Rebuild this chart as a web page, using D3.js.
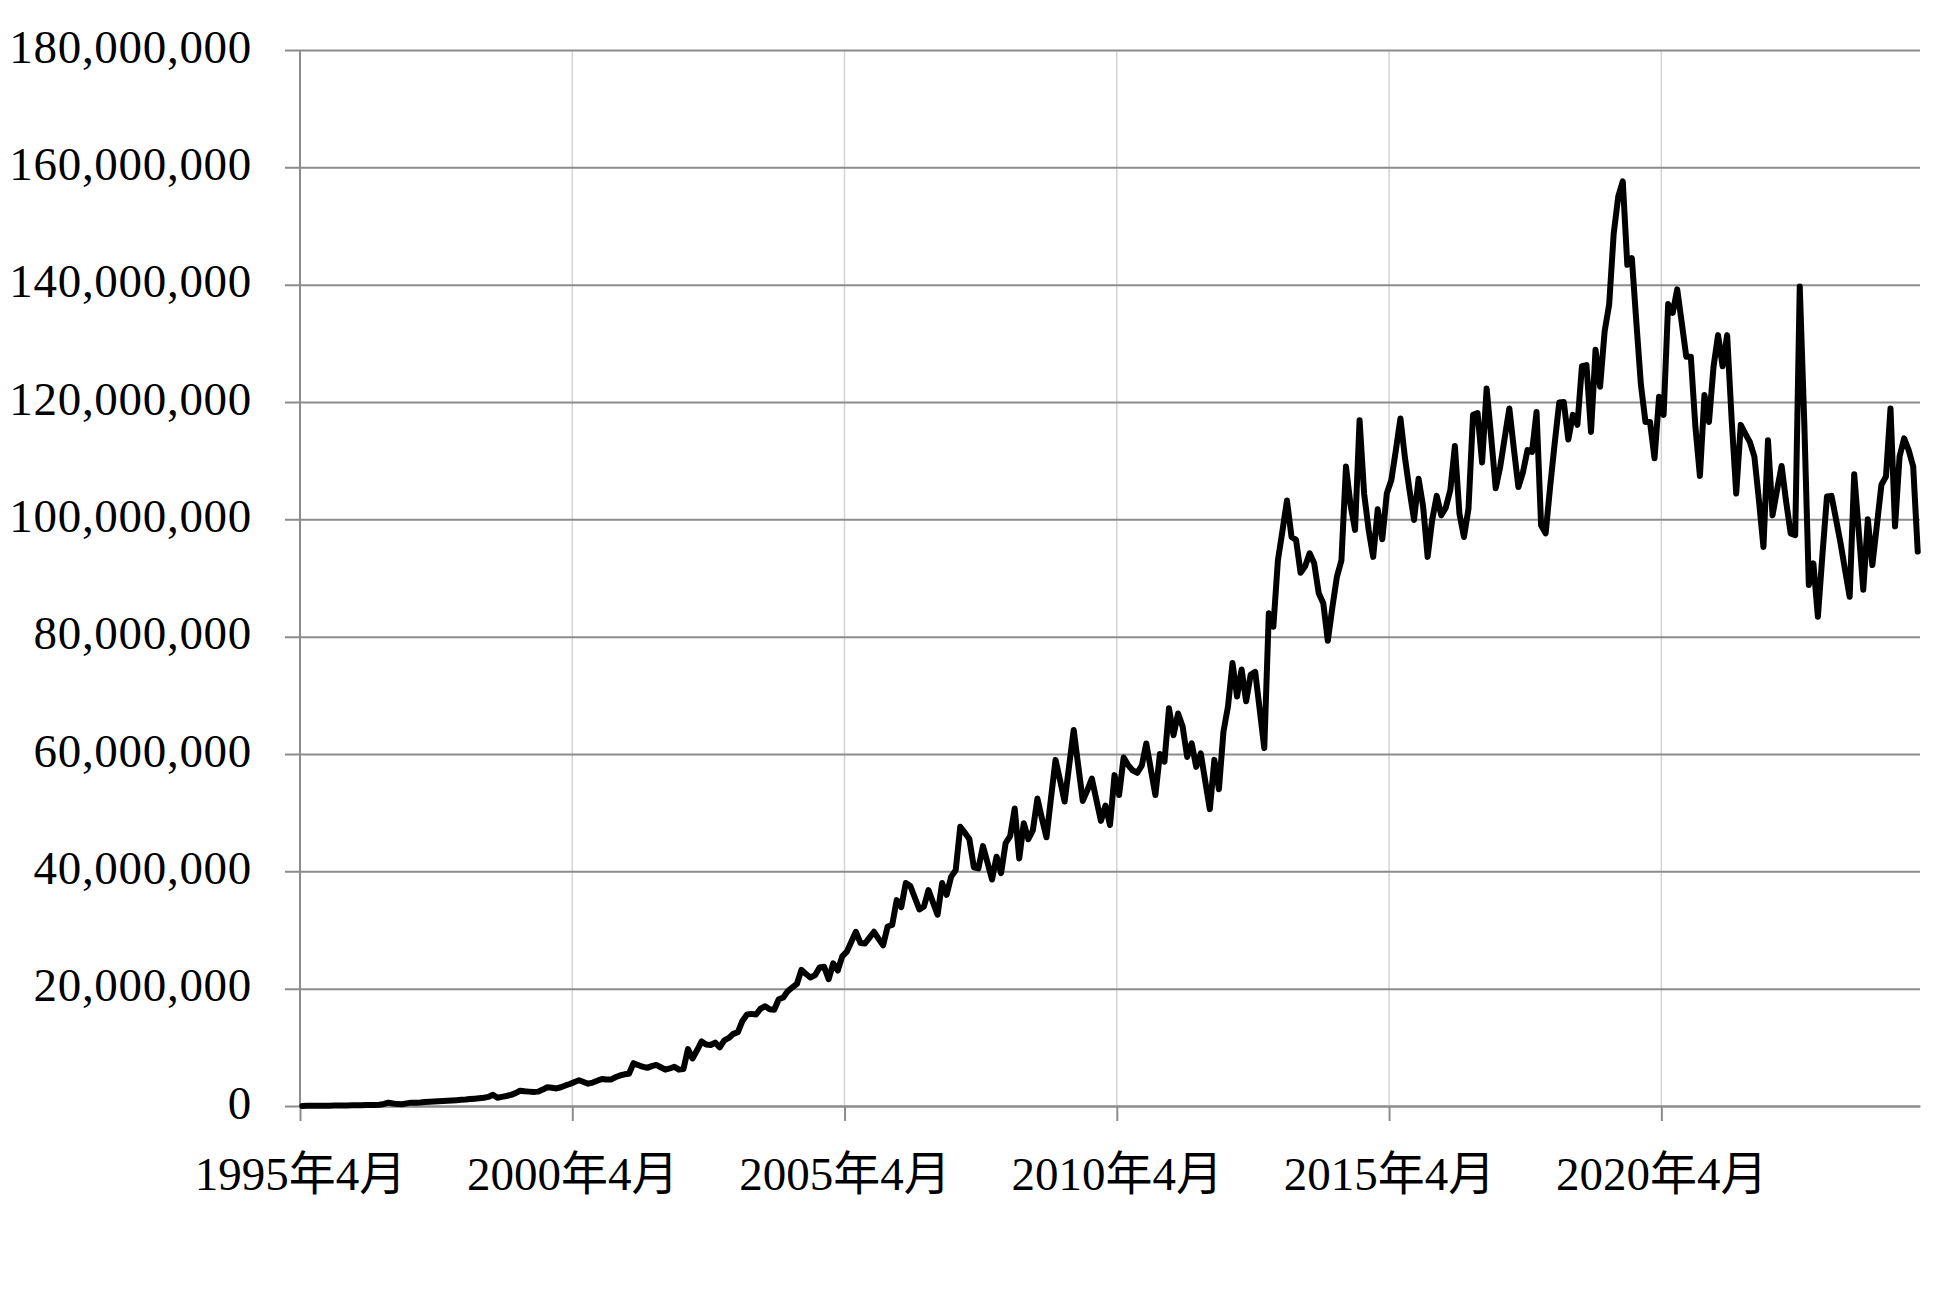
<!DOCTYPE html>
<html>
<head>
<meta charset="utf-8">
<script src="https://cdn.jsdelivr.net/npm/d3@7"></script>
<style>
  body { margin: 0; background: #fff; }
  svg text { font-family: "Liberation Serif", "Noto Sans CJK JP", serif; fill: #000; }
</style>
</head>
<body>
<svg id="chart" width="1949" height="1298"></svg>
<script>
// monthly values, 1995年4月 .. 2024年12月 (millions)
var valuesMillions = [
  0.02, 0.03, 0.03, 0.04, 0.05, 0.05, 0.06, 0.07, 0.08, 0.09,
  0.10, 0.11, 0.12, 0.13, 0.15, 0.17, 0.19, 0.22, 0.35, 0.57,
  0.42, 0.32, 0.30, 0.45, 0.57, 0.55, 0.60, 0.68, 0.74, 0.78,
  0.82, 0.86, 0.90, 0.95, 1.00, 1.05, 1.10, 1.18, 1.25, 1.32,
  1.40, 1.55, 1.90, 1.40, 1.55, 1.70, 1.90, 2.20, 2.60, 2.50,
  2.45, 2.40, 2.45, 2.80, 3.20, 3.10, 3.00, 3.20, 3.50, 3.75,
  4.10, 4.40, 4.10, 3.80, 4.00, 4.30, 4.60, 4.50, 4.50, 4.90,
  5.20, 5.40, 5.50, 7.30, 7.00, 6.70, 6.50, 6.80, 7.00, 6.60,
  6.20, 6.40, 6.70, 6.20, 6.30, 9.70, 8.10, 9.50, 11.00, 10.50,
  10.40, 10.80, 10.00, 11.20, 11.60, 12.30, 12.60, 14.50, 15.60, 15.70,
  15.60, 16.60, 17.00, 16.50, 16.40, 18.20, 18.50, 19.60, 20.20, 20.80,
  23.20, 22.50, 21.90, 22.30, 23.60, 23.75, 21.60, 24.30, 23.10, 25.50,
  26.30, 28.00, 29.70, 27.80, 27.70, 28.70, 29.70, 28.50, 27.40, 30.60,
  30.85, 35.10, 33.90, 38.00, 37.50, 35.50, 33.50, 34.00, 36.80, 34.70,
  32.60, 38.00, 36.00, 39.10, 40.20, 47.60, 46.60, 45.50, 40.70, 40.50,
  44.30, 41.50, 38.60, 42.50, 39.70, 44.80, 46.00, 50.70, 42.20, 48.20,
  45.50, 47.00, 52.40, 49.00, 45.80, 52.50, 59.00, 55.50, 51.90, 58.00,
  64.10, 58.00, 52.00, 53.80, 55.80, 52.20, 48.60, 51.20, 47.90, 56.40,
  53.00, 59.40, 58.10, 57.20, 56.80, 58.00, 61.80, 57.40, 53.00, 60.00,
  58.70, 67.80, 63.20, 66.90, 64.70, 59.50, 61.80, 57.80, 60.10, 55.30,
  50.60, 59.00, 54.00, 63.80, 68.10, 75.50, 69.80, 74.40, 69.00, 73.50,
  74.00, 67.50, 61.00, 84.00, 81.70, 93.00, 98.00, 103.20, 97.00, 96.50,
  90.90, 92.00, 94.20, 92.50, 87.40, 85.70, 79.30, 85.00, 90.20, 93.00,
  109.00, 102.50, 98.20, 116.90, 104.40, 98.20, 93.60, 101.70, 96.60, 104.40,
  106.70, 111.80, 117.20, 110.50, 105.00, 99.90, 106.90, 102.20, 93.60, 99.90,
  104.00, 100.70, 102.00, 105.00, 112.50, 101.00, 97.00, 101.80, 117.80, 118.10,
  109.70, 122.30, 114.00, 105.30, 109.00, 114.00, 118.90, 112.00, 105.50, 108.00,
  111.80, 111.50, 118.30, 99.00, 97.60, 105.60, 113.00, 119.90, 120.00, 113.60,
  117.80, 116.10, 126.10, 126.30, 114.90, 128.90, 122.60, 132.00, 136.60, 148.70,
  155.00, 157.60, 143.40, 144.50, 133.50, 122.90, 116.60, 116.60, 110.40, 120.90,
  117.80, 136.70, 135.20, 139.20, 133.50, 127.70, 127.70, 115.80, 107.40, 121.20,
  116.60, 126.00, 131.40, 126.10, 131.40, 116.90, 104.40, 116.10, 114.60, 113.20,
  110.70, 103.30, 95.30, 113.50, 100.70, 105.00, 109.10, 103.00, 97.60, 97.30,
  139.70, 116.40, 88.80, 92.50, 83.40, 94.00, 103.90, 104.00, 100.00, 95.90,
  91.30, 86.80, 107.70, 98.00, 88.00, 100.00, 92.20, 99.00, 105.90, 107.30,
  118.90, 98.80, 110.70, 113.80, 111.80, 109.00, 94.50
];
var yTicks = [0, 20000000, 40000000, 60000000, 80000000, 100000000, 120000000, 140000000, 160000000, 180000000];
var xTickIndex = [0, 60, 120, 180, 240, 300];
var xTickLabels = ["1995年4月", "2000年4月", "2005年4月", "2010年4月", "2015年4月", "2020年4月"];

var LEFT = 300;
var RIGHT = 1920;
var TOP = 50;
var BOTTOM = 1106;
var AXIS_GRAY = "#8c8c8c";
var GRID_LIGHT = "#d4d4d4";

var svg = d3.select("#chart");

var x = d3.scaleLinear()
  .domain([0, valuesMillions.length])
  .range([LEFT, RIGHT]);
var y = d3.scaleLinear()
  .domain([0, 180000000])
  .range([BOTTOM, TOP]);

// light vertical gridlines at tick positions (except the y axis itself)
svg.append("g").selectAll("line")
  .data(xTickIndex.slice(1))
  .enter()
  .append("line")
  .attr("x1", function(d) { return x(d); })
  .attr("x2", function(d) { return x(d); })
  .attr("y1", TOP)
  .attr("y2", BOTTOM)
  .style("stroke", GRID_LIGHT)
  .style("stroke-width", 1.5);

// horizontal gridlines + y labels
var yAxis = svg.append("g")
  .attr("transform", "translate(" + LEFT + ",0)")
  .call(d3.axisLeft(y)
    .tickValues(yTicks)
    .tickSize(-(RIGHT - LEFT))
    .tickPadding(48)
    .tickFormat(d3.format(",")));
yAxis.select(".domain").remove();
yAxis.selectAll(".tick line")
  .attr("x1", -15)
  .style("stroke", AXIS_GRAY)
  .style("stroke-width", 2);
yAxis.selectAll(".tick text")
  .attr("dy", 12)
  .style("font-size", "47px")
  .style("letter-spacing", "0.7px");

// y axis line
svg.append("line")
  .attr("x1", LEFT).attr("x2", LEFT)
  .attr("y1", TOP).attr("y2", BOTTOM)
  .style("stroke", AXIS_GRAY)
  .style("stroke-width", 2);

// x axis
var xAxis = svg.append("g")
  .attr("transform", "translate(0," + BOTTOM + ")")
  .call(d3.axisBottom(x)
    .tickValues(xTickIndex)
    .tickSize(15)
    .tickSizeOuter(0)
    .tickPadding(40)
    .tickFormat(function(d, i) { return xTickLabels[i]; }));
xAxis.select(".domain")
  .style("stroke", AXIS_GRAY)
  .style("stroke-width", 2);
xAxis.selectAll(".tick line")
  .style("stroke", AXIS_GRAY)
  .style("stroke-width", 2);
xAxis.selectAll(".tick text")
  .attr("dy", 0)
  .attr("y", 84)
  .style("font-size", "47px");

// data line
var line = d3.line()
  .x(function(d, i) { return x(i + 0.5); })
  .y(function(d) { return y(d * 1000000); });

svg.append("path")
  .datum(valuesMillions)
  .attr("d", line)
  .style("fill", "none")
  .style("stroke", "#000")
  .style("stroke-width", 6)
  .style("stroke-linejoin", "round")
  .style("stroke-linecap", "round");
</script>
</body>
</html>
